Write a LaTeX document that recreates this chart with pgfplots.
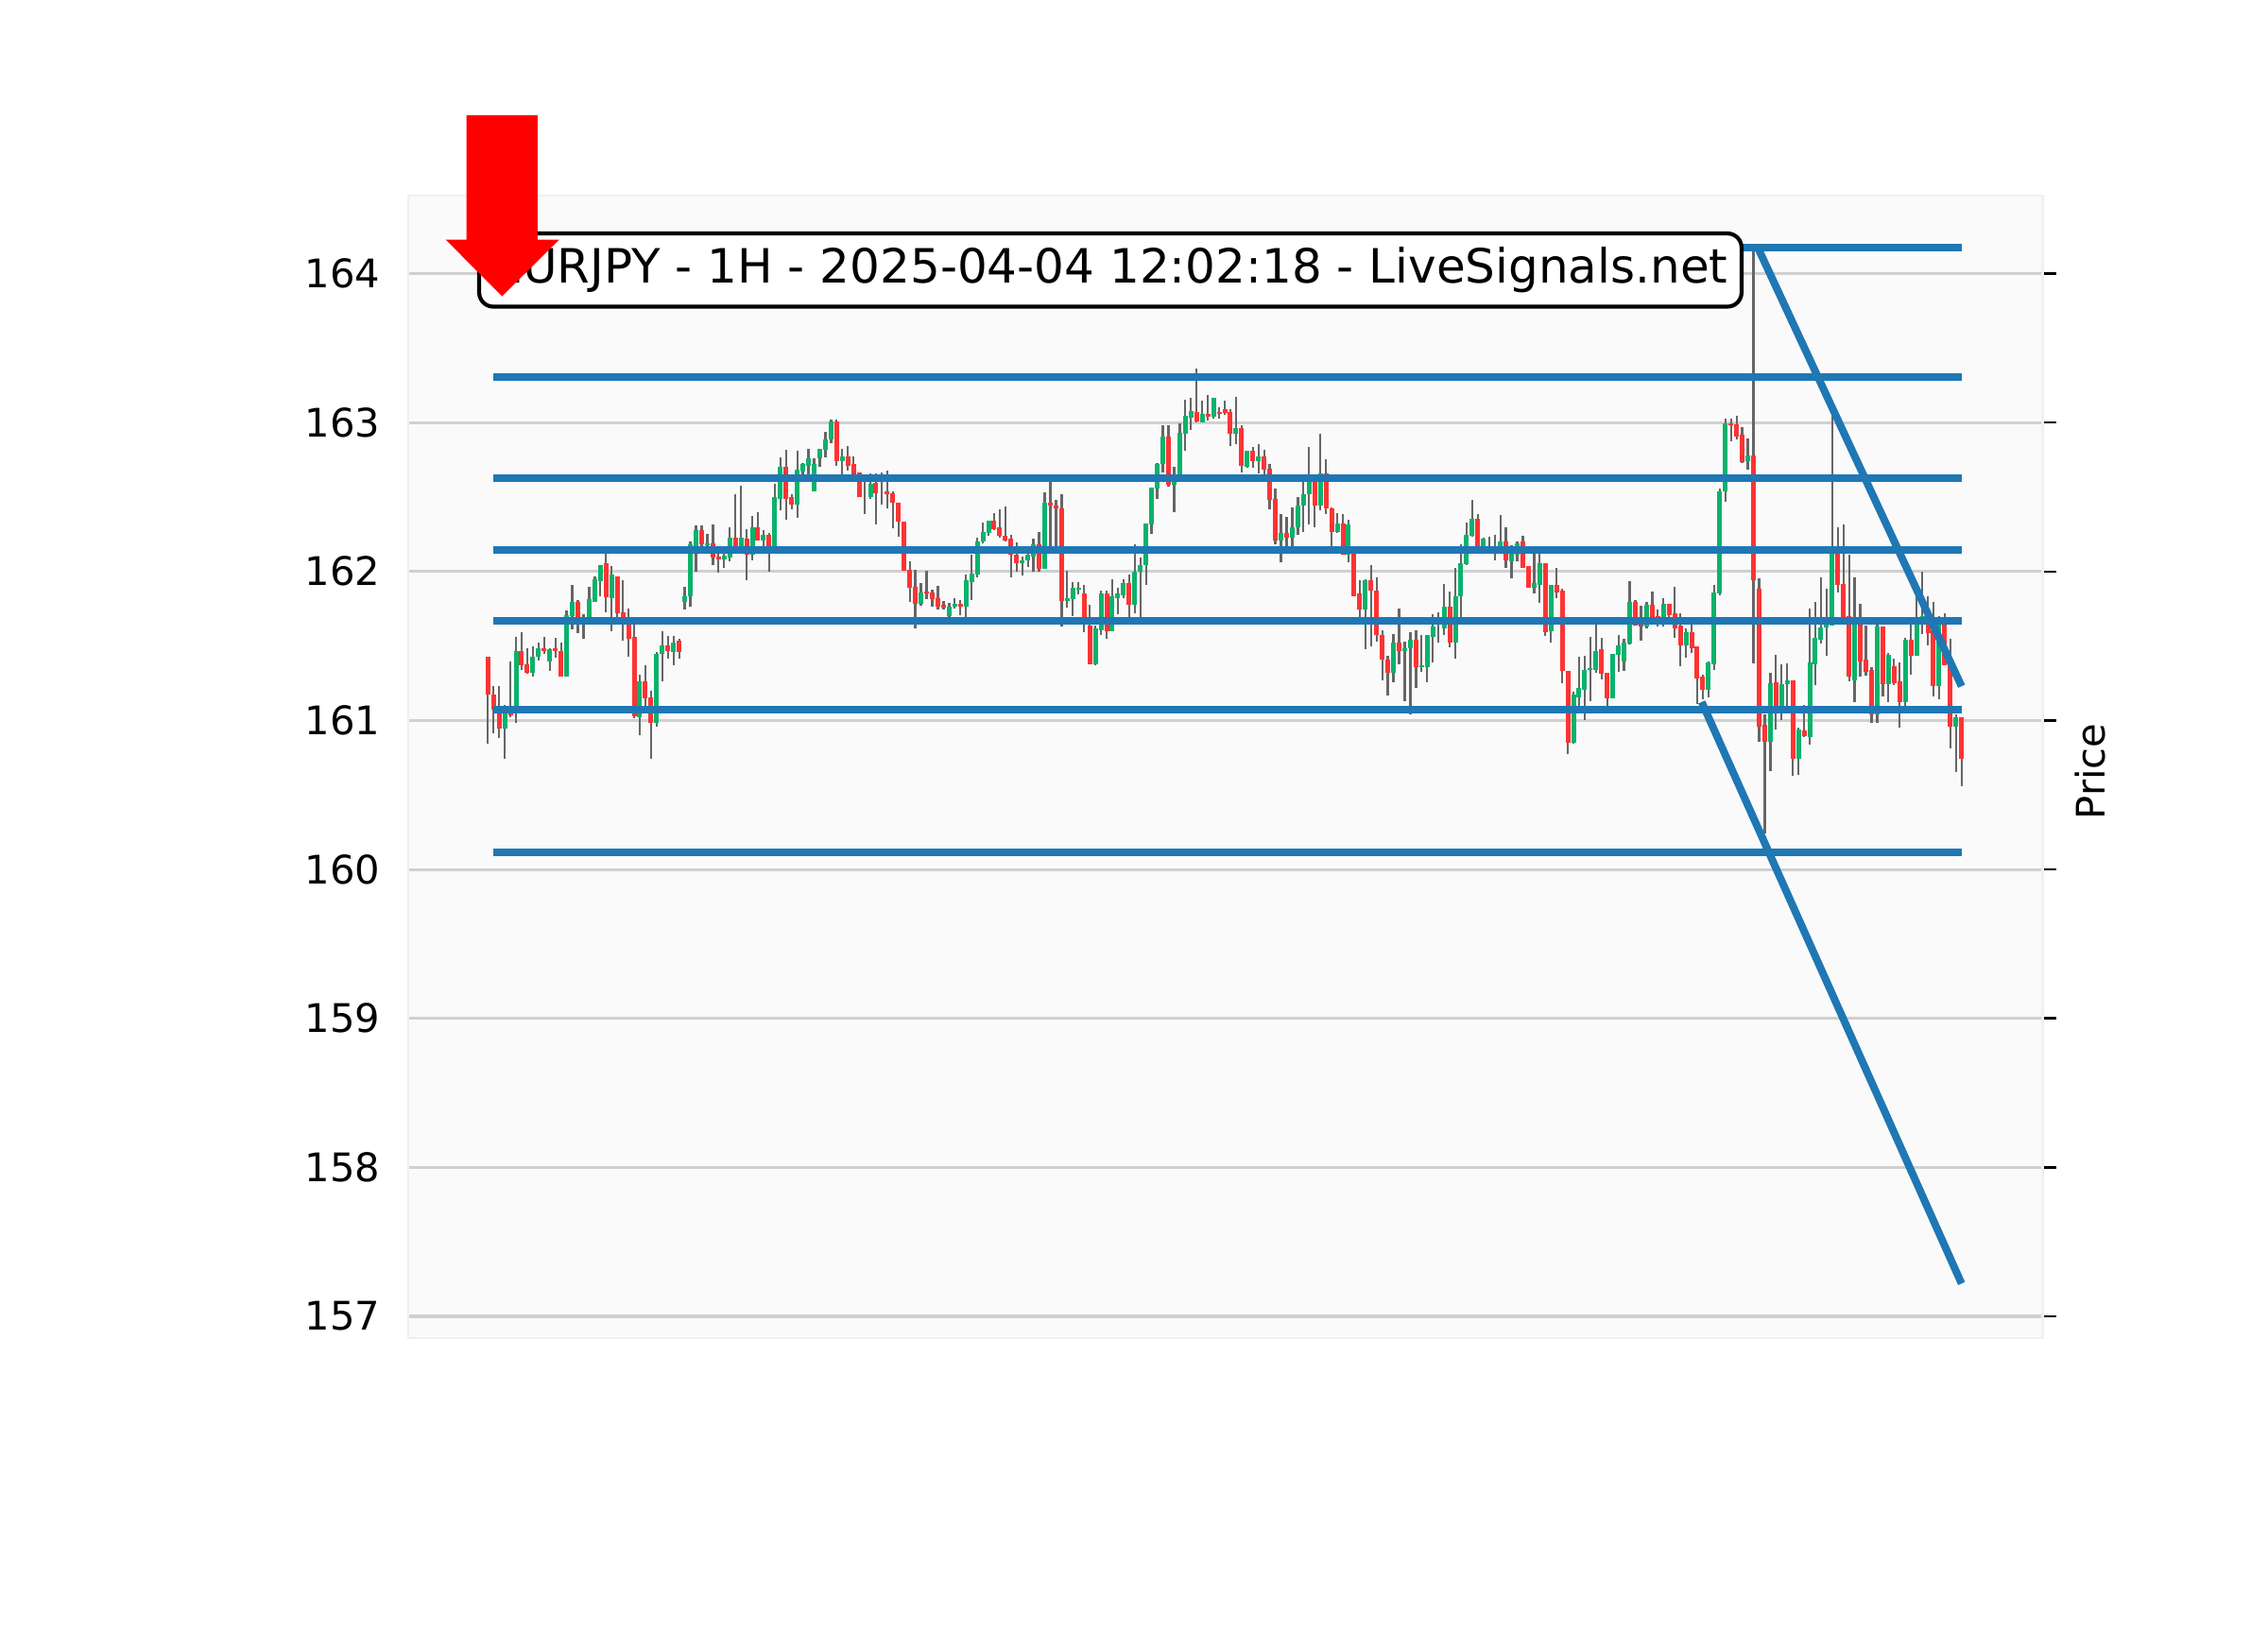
\documentclass[border=0pt]{standalone}
\usepackage{fontspec}
\setmainfont{DejaVu Sans}
\usepackage{pgfplots}
\usepackage{pgfplotstable}
\pgfplotsset{compat=1.18}
\definecolor{candleup}{HTML}{0AB26B}
\definecolor{candledown}{HTML}{FF3333}
\definecolor{wick}{HTML}{666666}
\definecolor{level}{HTML}{1F77B4}
\definecolor{gridcol}{HTML}{D0D0D0}
\definecolor{panel}{HTML}{FAFAFA}
\definecolor{paneledge}{HTML}{F0F0F0}

\pgfplotstableread{
x o h l c
0 161.425 161.425 160.846 161.171
1 161.177 161.230 160.913 161.072
2 161.068 161.230 160.884 160.943
3 160.943 161.104 160.740 161.068
4 161.057 161.399 161.023 161.036
5 161.046 161.564 160.985 161.463
6 161.463 161.592 161.340 161.372
7 161.378 161.484 161.315 161.321
8 161.321 161.497 161.296 161.431
9 161.425 161.522 161.404 161.482
10 161.482 161.560 161.448 161.463
11 161.399 161.484 161.334 161.476
12 161.488 161.554 161.423 161.463
13 161.469 161.522 161.296 161.296
14 161.296 161.738 161.296 161.704
15 161.698 161.909 161.611 161.793
16 161.793 161.807 161.585 161.681
17 161.653 161.712 161.547 161.687
18 161.681 161.896 161.645 161.812
19 161.797 161.966 161.797 161.945
20 161.936 162.046 161.833 162.046
21 162.053 162.125 161.725 161.829
22 161.824 162.036 161.598 161.977
23 161.970 161.970 161.691 161.717
24 161.723 161.941 161.535 161.691
25 161.691 161.750 161.427 161.550
26 161.558 161.649 161.015 161.029
27 161.023 161.306 160.901 161.266
28 161.266 161.370 161.099 161.146
29 161.152 161.199 160.740 160.981
30 160.981 161.459 160.958 161.450
31 161.444 161.598 161.264 161.501
32 161.501 161.566 161.416 161.463
33 161.457 161.566 161.370 161.526
34 161.533 161.547 161.416 161.457
35 161.797 161.896 161.744 161.837
36 161.831 162.199 161.763 162.180
37 162.173 162.308 161.998 162.281
38 162.281 162.308 162.173 162.186
39 162.177 162.251 162.118 162.192
40 162.192 162.315 162.042 162.093
41 162.099 162.118 161.991 162.084
42 162.082 162.118 162.023 162.106
43 162.097 162.296 162.067 162.230
44 162.230 162.518 162.156 162.173
45 162.173 162.575 162.156 162.230
46 162.218 162.283 161.941 162.116
47 162.110 162.372 162.076 162.294
48 162.294 162.397 162.209 162.209
49 162.207 162.277 162.167 162.249
50 162.249 162.258 161.998 162.167
51 162.167 162.588 162.156 162.497
52 162.490 162.765 162.410 162.706
53 162.706 162.816 162.347 162.490
54 162.497 162.518 162.416 162.452
55 162.452 162.810 162.359 162.681
56 162.672 162.727 162.642 162.721
57 162.710 162.822 162.642 162.763
58 162.541 162.763 162.541 162.725
59 162.761 162.826 162.702 162.826
60 162.820 162.936 162.765 162.890
61 162.890 163.019 162.860 163.010
62 163.010 163.019 162.708 162.742
63 162.742 162.822 162.642 162.776
64 162.776 162.841 162.676 162.710
65 162.719 162.771 162.642 162.651
66 162.662 162.662 162.503 162.503
67 162.611 162.653 162.385 162.632
68 162.497 162.657 162.490 162.592
69 162.598 162.657 162.315 162.528
70 162.617 162.664 162.448 162.632
71 162.535 162.676 162.423 162.522
72 162.528 162.537 162.289 162.459
73 162.465 162.465 162.232 162.332
74 162.338 162.338 162.006 162.006
75 162.013 162.067 161.795 161.894
76 161.900 162.010 161.617 161.786
77 161.786 161.922 161.769 161.862
78 161.865 162.004 161.814 161.852
79 161.862 161.877 161.763 161.818
80 161.824 161.903 161.744 161.767
81 161.774 161.801 161.744 161.755
82 161.698 161.788 161.681 161.761
83 161.767 161.820 161.750 161.786
84 161.786 161.807 161.706 161.761
85 161.761 161.977 161.670 161.939
86 161.932 162.112 161.807 161.989
87 161.983 162.226 161.960 162.205
88 162.199 162.328 162.188 162.268
89 162.262 162.344 162.239 162.344
90 162.344 162.391 162.277 162.287
91 162.294 162.416 162.230 162.237
92 162.243 162.435 162.201 162.211
93 162.218 162.249 161.960 162.110
94 162.116 162.194 161.998 162.053
95 162.053 162.103 161.972 162.078
96 162.072 162.141 162.029 162.110
97 162.103 162.224 161.998 162.186
98 162.186 162.268 161.998 162.019
99 162.019 162.530 162.019 162.463
100 162.465 162.600 162.125 162.440
101 162.446 162.484 162.156 162.421
102 162.427 162.522 161.632 161.805
103 161.805 162.004 161.757 161.824
104 161.818 161.928 161.700 161.888
105 161.881 161.928 161.846 161.894
106 161.850 161.913 161.592 161.670
107 161.636 161.776 161.378 161.378
108 161.374 161.636 161.370 161.617
109 161.607 161.869 161.575 161.856
110 161.856 161.869 161.550 161.602
111 161.600 161.945 161.600 161.831
112 161.824 161.890 161.712 161.850
113 161.843 161.951 161.824 161.920
114 161.920 161.979 161.691 161.774
115 161.774 162.186 161.719 162.002
116 161.996 162.097 161.691 162.046
117 162.046 162.325 161.909 162.325
118 162.319 162.562 162.251 162.562
119 162.560 162.731 162.486 162.725
120 162.719 162.985 162.664 162.909
121 162.909 162.985 162.569 162.585
122 162.583 162.702 162.397 162.600
123 162.600 162.993 162.600 162.934
124 162.928 163.156 162.810 163.048
125 163.036 163.163 162.949 163.080
126 163.074 163.361 163.002 163.008
127 163.002 163.144 163.002 163.061
128 163.061 163.184 163.012 163.042
129 163.042 163.163 163.025 163.163
130 163.074 163.101 163.025 163.061
131 163.093 163.144 163.055 163.067
132 163.074 163.093 162.841 162.928
133 162.928 163.171 162.854 162.960
134 162.960 162.985 162.664 162.712
135 162.700 162.814 162.695 162.814
136 162.814 162.839 162.695 162.744
137 162.744 162.858 162.659 162.776
138 162.776 162.820 162.651 162.681
139 162.693 162.725 162.416 162.484
140 162.490 162.556 162.182 162.211
141 162.211 162.389 162.061 162.256
142 162.256 162.366 162.167 162.230
143 162.230 162.429 162.156 162.300
144 162.294 162.499 162.247 162.446
145 162.440 162.617 162.266 162.522
146 162.516 162.839 162.317 162.604
147 162.604 162.632 162.298 162.446
148 162.446 162.928 162.410 162.659
149 162.659 162.752 162.385 162.421
150 162.427 162.433 162.156 162.268
151 162.266 162.395 162.258 162.325
152 162.325 162.385 162.110 162.110
153 162.114 162.347 162.061 162.313
154 162.135 162.173 161.837 161.837
155 161.850 161.941 161.691 161.742
156 161.742 161.945 161.480 161.941
157 161.939 162.042 161.497 161.869
158 161.875 161.960 161.528 161.571
159 161.577 161.605 161.268 161.406
160 161.412 161.433 161.167 161.323
161 161.323 161.579 161.256 161.520
162 161.520 161.750 161.376 161.463
163 161.469 161.528 161.129 161.488
164 161.482 161.592 161.040 161.539
165 161.539 161.605 161.218 161.361
166 161.357 161.573 161.325 161.368
167 161.361 161.573 161.256 161.571
168 161.564 161.712 161.389 161.628
169 161.659 161.725 161.522 161.674
170 161.621 161.915 161.573 161.765
171 161.761 161.865 161.490 161.526
172 161.526 162.023 161.414 161.837
173 161.831 162.182 161.681 162.053
174 162.051 162.328 162.042 162.249
175 162.237 162.480 162.232 162.357
176 162.351 162.385 162.156 162.167
177 162.167 162.226 162.135 162.218
178 162.173 162.232 162.135 162.156
179 162.173 162.245 162.074 162.135
180 162.144 162.378 162.135 162.205
181 162.205 162.296 162.023 162.078
182 162.067 162.177 161.953 162.125
183 162.110 162.199 162.067 162.192
184 162.199 162.239 162.025 162.025
185 162.040 162.040 161.892 161.892
186 161.892 162.122 161.852 161.922
187 161.907 162.122 161.788 162.053
188 162.053 162.053 161.566 161.594
189 161.602 161.913 161.522 161.913
190 161.913 162.023 161.820 161.860
191 161.869 161.884 161.249 161.330
192 161.330 161.330 160.774 160.848
193 160.848 161.192 160.846 161.171
194 161.158 161.427 161.089 161.216
195 161.209 161.433 161.002 161.342
196 161.336 161.560 161.129 161.349
197 161.342 161.645 161.319 161.469
198 161.476 161.554 161.275 161.315
199 161.323 161.323 161.095 161.150
200 161.150 161.444 161.150 161.444
201 161.438 161.573 161.325 161.507
202 161.399 161.547 161.332 161.526
203 161.516 161.934 161.509 161.793
204 161.793 161.807 161.636 161.640
205 161.659 161.769 161.535 161.628
206 161.628 161.793 161.617 161.780
207 161.780 161.865 161.645 161.666
208 161.698 161.744 161.630 161.666
209 161.659 161.820 161.634 161.786
210 161.786 161.786 161.645 161.710
211 161.717 161.896 161.554 161.621
212 161.636 161.719 161.364 161.507
213 161.507 161.617 161.421 161.590
214 161.590 161.643 161.452 161.488
215 161.495 161.495 161.110 161.285
216 161.292 161.306 161.142 161.203
217 161.203 161.399 161.154 161.393
218 161.380 161.913 161.338 161.862
219 161.856 162.554 161.839 162.541
220 162.535 163.029 162.467 162.998
221 162.998 163.029 162.873 162.985
222 162.989 163.044 162.886 162.909
223 162.916 162.971 162.731 162.737
224 162.740 162.896 162.684 162.778
225 162.778 164.149 161.383 161.939
226 161.886 161.952 160.857 160.961
227 160.972 161.039 160.240 160.860
228 160.860 161.322 160.659 161.253
229 161.259 161.443 160.939 161.094
230 161.094 161.380 161.003 161.245
231 161.242 161.385 161.094 161.270
232 161.270 161.270 160.631 160.744
233 160.744 160.950 160.637 160.937
234 160.931 161.102 160.887 160.893
235 160.887 161.754 160.838 161.391
236 161.380 161.795 161.237 161.556
237 161.545 161.961 161.515 161.625
238 161.622 161.886 161.435 161.644
239 161.639 163.075 161.639 162.139
240 162.139 162.299 161.859 161.911
241 161.919 162.318 161.672 161.694
242 161.699 162.112 161.264 161.297
243 161.272 161.961 161.121 161.644
244 161.658 161.782 161.292 161.396
245 161.410 161.636 161.303 161.328
246 161.336 161.361 160.983 161.044
247 161.044 161.644 160.983 161.628
248 161.628 161.628 161.162 161.245
249 161.245 161.451 161.121 161.443
250 161.366 161.418 161.237 161.248
251 161.262 161.388 160.950 161.124
252 161.121 161.553 161.094 161.545
253 161.545 161.644 161.306 161.432
254 161.435 161.851 161.435 161.644
255 161.672 161.996 161.581 161.699
256 161.644 161.837 161.506 161.589
257 161.603 161.795 161.160 161.231
258 161.231 161.699 161.143 161.644
259 161.644 161.718 161.369 161.369
260 161.383 161.548 160.813 160.961
261 160.961 161.039 160.653 161.025
262 161.025 161.025 160.557 160.741
}\candles

\begin{document}
\begin{tikzpicture}
\useasboundingbox (0,0) rectangle (576bp,414bp);
\begin{axis}[
at={(103.68bp,74.16bp)},
anchor=south west,
scale only axis,
width=415.06bp,
height=290.16bp,
clip=false,
xmin=-14.16,
xmax=276.40,
ymin=156.854,
ymax=164.524,
xtick=\empty,
ytick={157,158,159,160,161,162,163,164},
ytick pos=right,
yticklabel pos=left,
tick align=outside,
major tick length=3.4bp,
tick style={black,line width=0.6bp},
/pgf/number format/assume math mode=true,
/pgf/number format/1000 sep={},
yticklabel style={font=\fontsize{10bp}{12bp}\selectfont,inner sep=0pt,xshift=-3.5bp},
ymajorgrids,
grid style={gridcol,line width=0.75bp},
axis line style={paneledge,line width=0.6bp},
axis background/.style={fill=panel},
ylabel={Price},
ylabel style={at={(axis description cs:1.029,0.496)},anchor=center,rotate=0,font=\fontsize{10bp}{12bp}\selectfont},
]

% wicks
\addplot[draw=none,mark=none,error bars/.cd,y dir=plus,y explicit,error mark=none,
  error bar style={wick,line width=0.55bp}]
  table[x=x,y=l,y error plus expr=\thisrow{h}-\thisrow{l}]{\candles};

% bodies, rising then falling
\addplot[draw=none,mark=none,error bars/.cd,y dir=plus,y explicit,error mark=none,
  error bar style={candleup,line width=1.2bp}]
  table[x=x,y expr={\thisrow{c}>=\thisrow{o} ? \thisrow{o} : nan},y error plus expr=\thisrow{c}-\thisrow{o}]{\candles};
\addplot[draw=none,mark=none,error bars/.cd,y dir=plus,y explicit,error mark=none,
  error bar style={candledown,line width=1.2bp}]
  table[x=x,y expr={\thisrow{c}<\thisrow{o} ? \thisrow{c} : nan},y error plus expr=\thisrow{o}-\thisrow{c}]{\candles};

% levels
\addplot[level,line width=1.92bp,mark=none] coordinates {(1,164.173) (262,164.173)};
\addplot[level,line width=1.92bp,mark=none] coordinates {(1,163.305) (262,163.305)};
\addplot[level,line width=1.92bp,mark=none] coordinates {(1,162.626) (262,162.626)};
\addplot[level,line width=1.92bp,mark=none] coordinates {(1,162.145) (262,162.145)};
\addplot[level,line width=1.92bp,mark=none] coordinates {(1,161.668) (262,161.668)};
\addplot[level,line width=1.92bp,mark=none] coordinates {(1,161.073) (262,161.073)};
\addplot[level,line width=1.92bp,mark=none] coordinates {(1,160.113) (262,160.113)};
% trend lines
\addplot[level,line width=1.92bp,mark=none] coordinates {(225.8,164.173) (262,161.23)};
\addplot[level,line width=1.92bp,mark=none] coordinates {(215.8,161.124) (262,157.22)};

\node[draw=black,fill=white,line width=1bp,rounded corners=3.6bp,
  minimum width=320.6bp,minimum height=18.6bp,inner sep=0pt,
  font=\fontsize{12bp}{14bp}\selectfont]
  at (axis cs:110.67,164.024) {EURJPY - 1H - 2025-04-04 12:02:18 - LiveSignals.net};

\fill[red] (axis cs:-3.80,165.063) -- (axis cs:8.85,165.063) -- (axis cs:8.85,164.228)
  -- (axis cs:12.67,164.228) -- (axis cs:2.52,163.848) -- (axis cs:-7.49,164.228)
  -- (axis cs:-3.80,164.228) -- cycle;
\end{axis}
\end{tikzpicture}
\end{document}
